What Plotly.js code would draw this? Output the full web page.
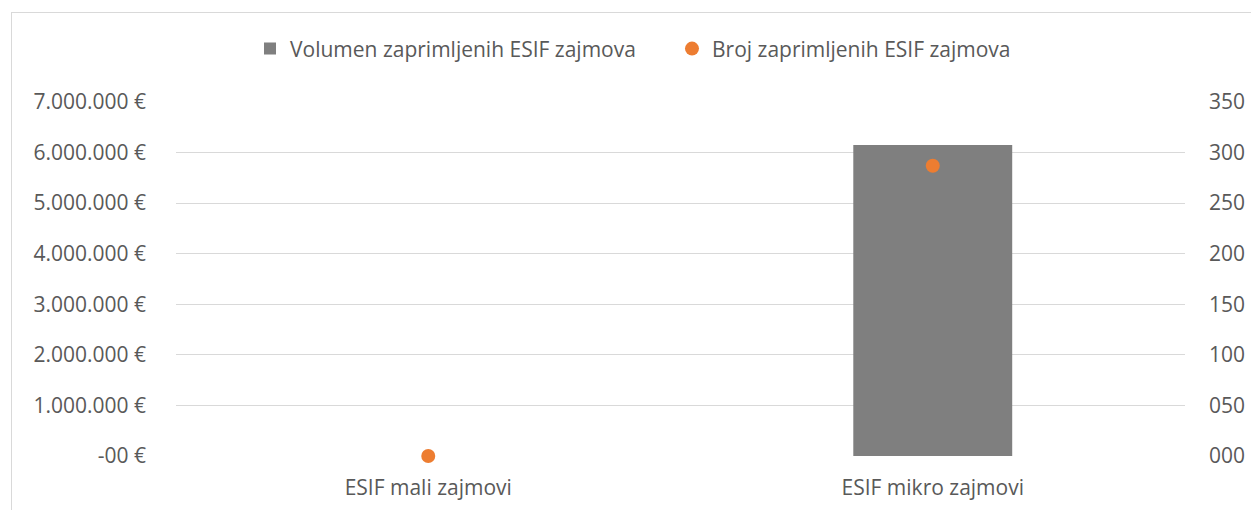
<!DOCTYPE html>
<html><head><meta charset="utf-8">
<script src="https://cdn.plot.ly/plotly-3.0.1.min.js"></script>
<style>
html,body{margin:0;padding:0;background:#fff;overflow:hidden}
#frame{position:absolute;left:11px;top:12px;width:1260px;height:520px;border-left:1px solid #d9d9d9;border-top:1px solid #d9d9d9}
#chart{position:absolute;left:0;top:0;width:1251px;height:510px}
</style></head>
<body>
<div id="frame"></div>
<div id="chart"></div>
<script>
const categories = ["ESIF mali zajmovi", "ESIF mikro zajmovi"];
const volumeValues = [0, 6150000];
const countValues = [0, 287];
const volumeName = "Volumen zaprimljenih ESIF zajmova";
const countName = "Broj zaprimljenih ESIF zajmova";
const leftTickVals = [0, 1000000, 2000000, 3000000, 4000000, 5000000, 6000000, 7000000];
const leftTickText = ["-00 €", "1.000.000 €", "2.000.000 €", "3.000.000 €", "4.000.000 €", "5.000.000 €", "6.000.000 €", "7.000.000 €"];
const rightTickVals = [0, 50, 100, 150, 200, 250, 300, 350];
const rightTickText = ["000", "050", "100", "150", "200", "250", "300", "350"];

const font = {family: "'Open Sans', sans-serif", size: 21, color: "#595959"};

const traces = [
  {type: "bar", name: volumeName, x: categories, y: volumeValues, marker: {color: "#7f7f7f"}, width: 0.315, yaxis: "y"},
  {type: "scatter", mode: "markers", name: countName, x: categories, y: countValues, marker: {color: "#ed7d31", size: 14}, yaxis: "y2", cliponaxis: false}
];

const layout = {
  width: 1251, height: 510,
  margin: {l: 176, r: 66, t: 102, b: 54},
  paper_bgcolor: "rgba(0,0,0,0)", plot_bgcolor: "rgba(0,0,0,0)",
  font: font,
  showlegend: true,
  legend: {orientation: "h", xref: "container", x: 250/1251, xanchor: "left", y: 0.904, yref: "container", yanchor: "middle", font: font, tracegroupgap: 0, entrywidth: 377, entrywidthmode: "pixels"},
  xaxis: {showgrid: false, zeroline: false, showline: false, ticks: "", tickfont: font, ticklabelstandoff: 17, automargin: false},
  yaxis: {range: [0, 7000000], tickvals: leftTickVals, ticktext: leftTickText, showgrid: true, gridcolor: "#d9d9d9", gridwidth: 1, zeroline: false, showline: false, ticks: "", tickfont: font, ticklabelstandoff: 29, automargin: false},
  yaxis2: {range: [0, 350], overlaying: "y", side: "right", tickvals: rightTickVals, ticktext: rightTickText, showgrid: false, zeroline: false, showline: false, ticks: "", tickfont: font, ticklabelstandoff: 23, automargin: false}
};

Plotly.newPlot("chart", traces, layout, {displayModeBar: false, staticPlot: true});
</script>
</body></html>
